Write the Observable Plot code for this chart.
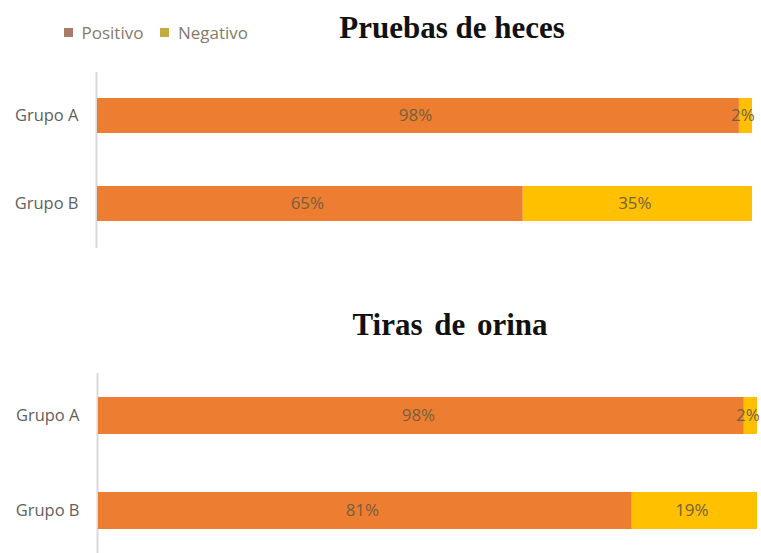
<!DOCTYPE html>
<html>
<head>
<meta charset="utf-8">
<script src="https://cdn.jsdelivr.net/npm/d3@7"></script>
<script src="https://cdn.jsdelivr.net/npm/@observablehq/plot@0.6"></script>
<style>
  body { margin: 0; background: #fff; }
  #wrap { position: relative; width: 761px; height: 553px; overflow: hidden; background: #fff; font-family: "Open Sans", "Liberation Sans", sans-serif; }
  .title { position: absolute; font-family: "Liberation Serif", "DejaVu Serif", serif; font-weight: bold; font-size: 31px; color: #111; transform: translate(-50%, -50%); white-space: nowrap; }
  .panel { position: absolute; left: 0; }
  #legend { position: absolute; left: 64px; top: 16px; }
</style>
</head>
<body>
<div id="wrap"></div>
<script>
const groups = ["Grupo A", "Grupo B"];
const series = ["Positivo", "Negativo"];
const hecesPositivo = [98, 65];
const hecesNegativo = [2, 35];
const orinaPositivo = [98, 81];
const orinaNegativo = [2, 19];
const titles = ["Pruebas de heces", "Tiras de orina"];
const barColors = ["#ED7D31", "#FFC000"];
const legendColors = ["#a97c68", "#c4ac3e"];

function rows(pos, neg) {
  const out = [];
  groups.forEach((g, i) => {
    out.push({group: g, serie: series[0], value: pos[i]});
    out.push({group: g, serie: series[1], value: neg[i]});
  });
  return out;
}

function panel(data, opts) {
  return Plot.plot({
    width: 761,
    height: opts.height,
    marginLeft: opts.left,
    marginRight: opts.right,
    marginTop: opts.top,
    marginBottom: opts.bottom,
    style: {color: "#5f5f5f", fontFamily: "'Open Sans', 'Liberation Sans', sans-serif", background: "transparent"},
    x: {domain: [0, 100], axis: null},
    y: {domain: groups, paddingInner: opts.pi, paddingOuter: opts.po, label: null},
    color: {domain: series, range: barColors},
    marks: [
      Plot.ruleX([0], {stroke: "#d9d9d9", strokeWidth: 2, dx: -1}),
      Plot.barX(data, Plot.stackX({y: "group", x: "value", fill: "serie"})),
      Plot.textX(data, Plot.stackX({y: "group", x: "value", z: "serie", text: d => d.value + "%", fill: "#76603f", fontSize: 17, dx: -3})),
      Plot.axisY({tickSize: 0, tickPadding: 19, fontSize: 16.5, label: null})
    ]
  });
}

const wrap = document.getElementById("wrap");

const p1 = panel(rows(hecesPositivo, hecesNegativo), {height: 180, left: 97, right: 9, top: 2, bottom: 2, pi: 0.6, po: 0.3});
p1.classList.add("panel");
p1.style.top = "70px";
wrap.appendChild(p1);

const p2 = panel(rows(orinaPositivo, orinaNegativo), {height: 188, left: 98, right: 4, top: 8, bottom: 0, pi: 0.61, po: 0.25});
p2.classList.add("panel");
p2.style.top = "365px";
wrap.appendChild(p2);

const t1 = document.createElement("div");
t1.className = "title"; t1.textContent = titles[0];
t1.style.left = "452px"; t1.style.top = "28px";
wrap.appendChild(t1);

const t2 = document.createElement("div");
t2.className = "title"; t2.textContent = titles[1];
t2.style.left = "450px"; t2.style.top = "325px";
t2.style.wordSpacing = "4px";
wrap.appendChild(t2);

const leg = Plot.legend({
  color: {domain: series, range: legendColors},
  legend: "swatches",
  swatchSize: 9,
  style: {fontSize: "17px", color: "#857a6c", fontFamily: "'Open Sans', 'Liberation Sans', sans-serif"}
});
leg.id = "legend";
wrap.appendChild(leg);
</script>
</body>
</html>
